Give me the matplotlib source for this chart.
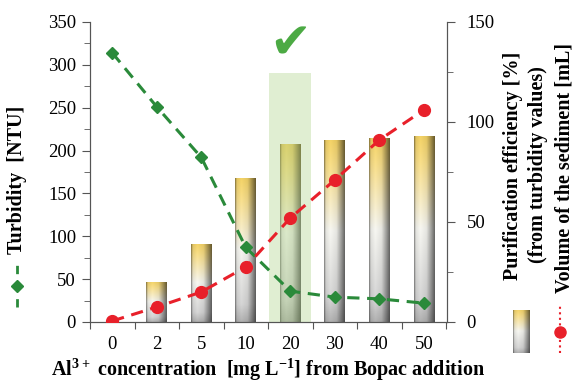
import numpy as np
import matplotlib
matplotlib.use('Agg')
import matplotlib.pyplot as plt
from matplotlib.lines import Line2D
from matplotlib.patches import Rectangle

plt.rcParams['font.family'] = 'Liberation Serif'
plt.rcParams['mathtext.fontset'] = 'custom'
plt.rcParams['mathtext.rm'] = 'Liberation Serif'
plt.rcParams['mathtext.bf'] = 'Liberation Serif:bold'

# data
conc = ['0', '2', '5', '10', '20', '30', '40', '50']
turbidity = [314, 251, 192, 87, 36, 29, 27, 22]          # NTU, left axis
efficiency = [0, 20, 39, 72, 89, 91, 92, 93]             # %, right axis (bars)
sediment = [0.5, 7.5, 15, 27.5, 52, 71, 91, 106]         # mL, right axis
best_idx = 4
best_top = 291

x = np.arange(len(conc))
green = '#2a8a3a'
red = '#e8202a'
spine_c = '#555555'
tick_fs = 13.5
lab_fs = 14.5

fig = plt.figure(figsize=(5.74, 3.83), dpi=100)
rect = [0.1568, 0.1593, 0.6219, 0.7833]

# bars live in their own axes underneath
axb = fig.add_axes(rect)
axb.axis('off')


def bar_image(nx=40, ny=100):
    t = np.linspace(0, 1, ny)[:, None]
    u = np.linspace(0, 1, nx)[None, :]
    stops = [0, 0.12, 0.5, 0.85, 1]
    cols = np.array([[0.70, 0.70, 0.70], [0.84, 0.84, 0.84], [0.97, 0.97, 0.95],
                     [0.98, 0.88, 0.55], [0.96, 0.83, 0.40]])
    img = np.zeros((ny, nx, 3))
    shade = np.interp(u, [0, 0.08, 0.3, 0.6, 0.85, 1], [0.55, 0.92, 1.0, 0.93, 0.62, 0.42])
    for c in range(3):
        img[:, :, c] = np.interp(t, stops, cols[:, c]) * shade
    return np.clip(img[::-1], 0, 1)


bw = 0.45
bars = axb.bar(x, efficiency, width=bw, facecolor='none', edgecolor='none')
img = bar_image()
for b, xi, h in zip(bars, x, efficiency):
    if h <= 0:
        continue
    im = axb.imshow(img, extent=[xi - bw / 2, xi + bw / 2, 0, h], aspect='auto', zorder=1)
    im.set_clip_path(b)
axb.set_xlim(-0.48, 7.52)
axb.set_ylim(0, 150)

# left axes: turbidity
ax = fig.add_axes(rect)
ax.patch.set_visible(False)
ax.set_xlim(-0.48, 7.52)
ax.set_ylim(0, 350)
ax.add_patch(Rectangle((x[best_idx] - 0.475, 0), 0.95, best_top,
                       facecolor='#a8d080', alpha=0.35, edgecolor='none', zorder=1))
ax.plot(x, turbidity, color=green, ls=(0, (4, 2.5)), lw=2.2, marker='D', ms=6.5,
        mfc=green, mec=green, zorder=5)
ax.text(x[best_idx], 296, '\u2714', family='DejaVu Sans', fontsize=36,
        color='#4caa44', ha='center', va='bottom', zorder=6)

ax.set_yticks(np.arange(0, 351, 50))
ax.set_yticks(np.arange(0, 351, 25), minor=True)
ax.set_xticks(np.arange(-0.5, 7.6, 1))
ax.set_xticklabels([])
ax.set_xticks(x, minor=True)
ax.set_xticklabels(conc, minor=True)
ax.tick_params(axis='x', which='major', direction='out', length=5, color=spine_c)
ax.tick_params(axis='x', which='minor', length=0, pad=10, labelsize=tick_fs)
ax.tick_params(axis='y', which='both', direction='out', color=spine_c, labelsize=tick_fs, pad=4)
ax.tick_params(axis='y', which='major', length=6)
ax.tick_params(axis='y', which='minor', length=4)
ax.spines['top'].set_visible(False)
for s in ['left', 'bottom', 'right']:
    ax.spines[s].set_color(spine_c)
ax.set_xlabel(r'Al$^{\mathbf{3+}}$ concentration  [mg L$^{\mathbf{-1}}$] from Bopac addition',
              fontsize=lab_fs, fontweight='bold', labelpad=2)

# right axes: sediment volume and efficiency scale
ax2 = ax.twinx()
ax2.set_ylim(0, 150)
ax2.plot(x, sediment, color=red, ls=(0, (4, 2.5)), lw=2.2, marker='o', ms=8.5,
         mfc=red, mec=red, zorder=5)
ax2.set_yticks(np.arange(0, 151, 50))
ax2.set_yticks(np.arange(0, 151, 25), minor=True)
ax2.tick_params(axis='y', which='both', direction='out', color=spine_c, labelsize=tick_fs, pad=8)
ax2.tick_params(axis='y', which='major', length=6)
ax2.tick_params(axis='y', which='minor', length=4)
ax2.spines['top'].set_visible(False)
for s in ['left', 'bottom', 'right']:
    ax2.spines[s].set_color(spine_c)

# axis titles as figure text
fig.text(17 / 574, 1 - 180 / 383, 'Turbidity  [NTU]', rotation=90, ha='center', va='center',
         fontsize=lab_fs, fontweight='bold')
fig.text(513 / 574, 1 - 166 / 383, 'Purification efficiency [%]', rotation=90,
         ha='center', va='center', fontsize=lab_fs, fontweight='bold')
fig.text(538 / 574, 1 - 165 / 383, '(from turbidity values)', rotation=90,
         ha='center', va='center', fontsize=lab_fs, fontweight='bold')
fig.text(564 / 574, 1 - 168 / 383, 'Volume of the sediment [mL]', rotation=90,
         ha='center', va='center', fontsize=lab_fs, fontweight='bold')

# little legend keys
fig.add_artist(Line2D([17 / 574, 17 / 574], [1 - 307 / 383, 1 - 263 / 383], color=green,
                      ls=(0, (3, 3)), lw=2, transform=fig.transFigure))
fig.add_artist(Line2D([17 / 574], [1 - 286 / 383], color=green, marker='D', ms=6.5,
                      transform=fig.transFigure))
fig.add_artist(Line2D([560 / 574, 560 / 574], [1 - 353 / 383, 1 - 305 / 383], color=red,
                      ls=':', lw=1.5, transform=fig.transFigure))
fig.add_artist(Line2D([560 / 574], [1 - 332 / 383], color=red, marker='o', ms=8,
                      transform=fig.transFigure))
axk = fig.add_axes([513 / 574, 1 - 353 / 383, 17 / 574, 43 / 383])
axk.imshow(img, aspect='auto')
axk.axis('off')

fig.savefig('out.png', dpi=100)
